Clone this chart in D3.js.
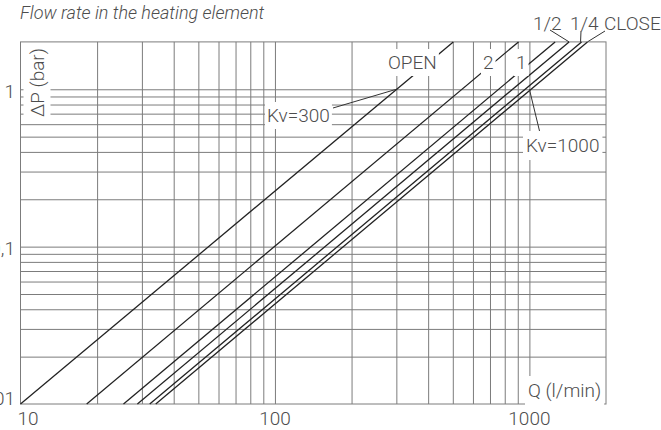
<!DOCTYPE html>
<html>
<head>
<meta charset="utf-8">
<script src="https://cdn.jsdelivr.net/npm/d3@7"></script>
<style>
  body { margin: 0; background: #fff; }
  svg { display: block; font-family: Roboto, "Noto Sans", sans-serif; }
  .lbl { font-size: 19px; font-weight: 300; fill: #4d4d4d; }
</style>
</head>
<body>
<svg id="chart" width="661" height="430"></svg>
<script>
// valve positions, flow (l/min) where each line meets dP = 0.01 and dP = 2 bar
const positions = ["OPEN", "2", "1", "1/2", "1/4", "CLOSE"];
const qAtLow = [10, 18.2, 25.4, 28.8, 32.2, 34.0];
const qAtHigh = [502, 906, 1262, 1432, 1603, 1691];
const dpLow = 0.01;
const dpHigh = 2;

const qGrid = [20, 30, 40, 50, 60, 70, 80, 90, 100, 200, 300, 400, 500, 600, 700, 800, 900, 1000];
const dpGrid = [0.02, 0.03, 0.04, 0.05, 0.06, 0.07, 0.08, 0.09, 0.1, 0.2, 0.3, 0.4, 0.5, 0.6, 0.7, 0.8, 0.9, 1];

const qTicks = [10, 100, 1000];
const qTickLabels = ["10", "100", "1000"];
const dpTicks = [0.01, 0.1, 1];
const dpTickLabels = ["0,01", "0,1", "1"];

// Kv annotations: the point on the chart they refer to
const kvNames = ["Kv=300", "Kv=1000"];
const kvQ = [300, 1000];
const kvDp = [1, 1];

const svg = d3.select("#chart");
const x = d3.scaleLog().domain([10, 2000]).range([20.5, 606]);
const y = d3.scaleLog().domain([0.01, 2]).range([404, 41.9]);
const gridColor = "#7c7c7c";

// title
svg.append("text")
  .attr("x", 20).attr("y", 19)
  .attr("class", "lbl")
  .style("font-style", "italic").style("font-size", "18px")
  .text("Flow rate in the heating element");

// grid
const grid = svg.append("g");
grid.append("g")
  .attr("transform", "translate(0,404)")
  .call(d3.axisBottom(x).tickValues(qGrid).tickSize(-(404 - 41.9)).tickFormat(""))
  .call(g => g.select(".domain").remove())
  .selectAll("line").attr("stroke", gridColor);
grid.append("g")
  .attr("transform", "translate(20.5,0)")
  .call(d3.axisLeft(y).tickValues(dpGrid).tickSize(-(606 - 20.5)).tickFormat(""))
  .call(g => g.select(".domain").remove())
  .selectAll("line").attr("stroke", gridColor);
grid.append("rect")
  .attr("x", 20.5).attr("y", 41.9)
  .attr("width", 606 - 20.5).attr("height", 404 - 41.9)
  .attr("fill", "none").attr("stroke", gridColor);

// lines
const line = d3.line().x(d => x(d[0])).y(d => y(d[1]));
svg.append("g").selectAll("path")
  .data(positions.map((p, i) => [[qAtLow[i], dpLow], [qAtHigh[i], dpHigh]]))
  .join("path")
  .attr("d", line)
  .attr("fill", "none")
  .attr("stroke", "#222")
  .attr("stroke-width", 1.3);

// tick labels
svg.append("g").selectAll("text")
  .data(qTicks)
  .join("text")
  .attr("class", "lbl")
  .attr("x", (d, i) => i === 0 ? x(d) - 3 : x(d))
  .attr("y", 425)
  .attr("text-anchor", (d, i) => i === 0 ? "start" : "middle")
  .text((d, i) => qTickLabels[i]);
svg.append("g").selectAll("text")
  .data(dpTicks)
  .join("text")
  .attr("class", "lbl")
  .attr("x", 15)
  .attr("y", (d, i) => i === 0 ? y(d) - 6 : y(d) + 2)
  .attr("dy", "0.35em")
  .attr("text-anchor", "end")
  .text((d, i) => dpTickLabels[i]);

// labels with white background
function boxed(tx, ty, str, opts = {}) {
  const g = svg.append("g");
  const r = g.append("rect").attr("fill", "#fff");
  const t = g.append("text").attr("class", "lbl").text(str);
  if (opts.rotate) {
    t.attr("transform", `translate(${tx},${ty}) rotate(-90)`);
  } else {
    t.attr("x", tx).attr("y", ty);
  }
  if (opts.noBg) { r.remove(); return; }
  const b = t.node().getBBox();
  const p = opts.pad || 2;
  if (opts.rotate) {
    r.attr("x", tx + b.y - p).attr("y", ty - b.x - b.width - p)
      .attr("width", b.height + 2 * p).attr("height", b.width + 2 * p);
  } else {
    r.attr("x", b.x - p).attr("y", b.y - p)
      .attr("width", b.width + 2 * p).attr("height", b.height + 2 * p);
  }
}

// leaders for the labels above the plot
const leader = svg.append("g").attr("stroke", "#333").attr("stroke-width", 1).attr("fill", "none");
leader.append("line").attr("x1", 550).attr("y1", 30).attr("x2", x(qAtHigh[3])).attr("y2", y(dpHigh));
leader.append("line").attr("x1", 581).attr("y1", 31).attr("x2", x(qAtHigh[4]) - 1).attr("y2", y(dpHigh));
leader.append("line").attr("x1", 605).attr("y1", 31).attr("x2", x(qAtHigh[5])).attr("y2", y(dpHigh));
// Kv leaders
leader.append("line").attr("x1", 333).attr("y1", 108).attr("x2", x(kvQ[0])).attr("y2", y(kvDp[0]));
leader.append("line").attr("x1", 540).attr("y1", 133).attr("x2", x(kvQ[1])).attr("y2", y(kvDp[1]));

boxed(388, 69, positions[0], { pad: 2 });
boxed(483, 69, positions[1], { pad: 2 });
boxed(516, 69, positions[2], { pad: 2 });
boxed(533, 29.5, positions[3], { noBg: true });
boxed(570, 29.5, positions[4], { noBg: true });
boxed(604, 29.5, positions[5], { noBg: true });

boxed(267, 122, kvNames[0], { pad: 2 });
boxed(526, 152, kvNames[1], { pad: 3 });
boxed(528, 397, "Q (l/min)", { pad: 3 });
boxed(43.5, 117, "ΔP (bar)", { rotate: true, pad: 2 });
</script>
</body>
</html>
